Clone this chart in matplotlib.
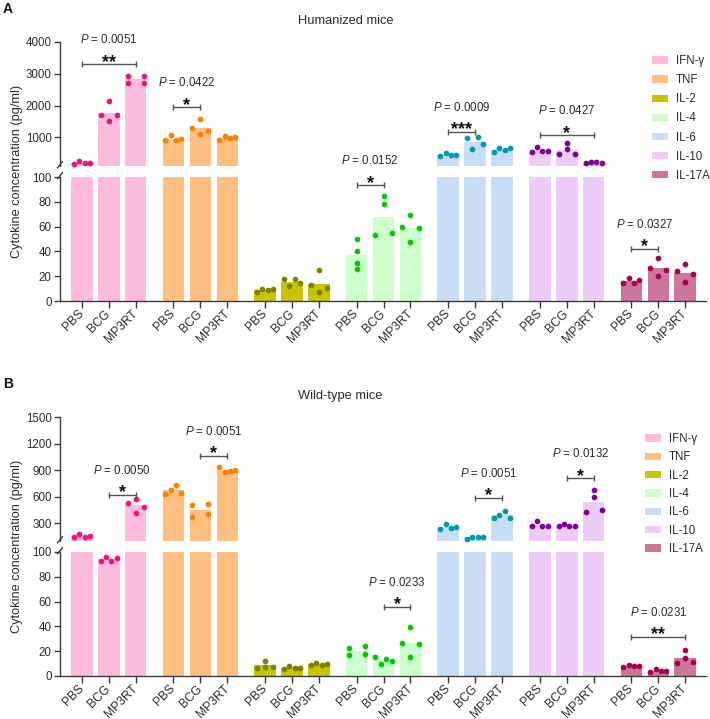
import numpy as np
import matplotlib
matplotlib.use('Agg')
import matplotlib.pyplot as plt
from matplotlib.patches import Patch

plt.rcParams['font.family'] = ['Liberation Sans', 'DejaVu Sans']
plt.rcParams['mathtext.fontset'] = 'custom'
plt.rcParams['mathtext.it'] = 'Liberation Sans:italic'
plt.rcParams['mathtext.rm'] = 'Liberation Sans'

groups = ['PBS', 'BCG', 'MP3RT']
cytokines = ['IFN-γ', 'TNF', 'IL-2', 'IL-4', 'IL-6', 'IL-10', 'IL-17A']
bar_colors = ['#ffbbdd', '#ffbf80', '#c8c400', '#ccffcc', '#c6ddf5', '#eeccf8', '#cc7799']
dot_colors = ['#f0147f', '#ff8000', '#808000', '#00cc00', '#0099b3', '#800099', '#aa0055']

# humanized mice, 4 mice per group (PBS, BCG, MP3RT), pg/ml
hu_ifng = [[170, 245, 200, 205], [2130, 1705, 1516, 1705], [2926, 2926, 2726, 2726]]
hu_tnf = [[905, 1084, 905, 937], [1568, 1284, 1095, 1200], [905, 1042, 979, 1000]]
hu_il2 = [[7.3, 9.9, 9.1, 9.4], [17.5, 11.8, 17.5, 14.8], [24.7, 12.6, 7.3, 10.8]]
hu_il4 = [[50.3, 40.3, 30.6, 25.8], [84.4, 78.0, 53.0, 55.1], [69.1, 59.7, 47.6, 58.6]]
hu_il6 = [[411, 505, 432, 432], [968, 642, 1010, 800], [537, 663, 589, 674]]
hu_il10 = [[537, 684, 579, 579], [474, 642, 821, 484], [189, 221, 221, 210]]
hu_il17a = [[14.2, 18.3, 14.2, 16.7], [35.0, 26.3, 20.4, 24.7], [24.2, 29.6, 15.3, 21.5]]

# wild-type mice
wt_ifng = [[142, 176, 149, 160], [93.0, 95.7, 92.7, 95.1], [526, 421, 572, 485]]
wt_tnf = [[632, 681, 734, 643], [508, 375, 515, 402], [941, 877, 892, 900]]
wt_il2 = [[6.5, 12.4, 7.5, 7.5], [5.4, 7.8, 6.5, 6.7], [8.6, 10.8, 8.9, 9.4]]
wt_il4 = [[22.4, 16.7, 24.5, 17.8], [15.1, 9.7, 14.0, 12.1], [39.6, 15.6, 26.4, 26.1]]
wt_il6 = [[232, 292, 243, 262], [119, 142, 148, 145], [364, 394, 440, 357]]
wt_il10 = [[270, 326, 274, 274], [266, 289, 274, 270], [677, 598, 432, 451]]
wt_il17a = [[7.0, 8.9, 8.4, 8.1], [3.0, 5.4, 4.3, 4.3], [10.8, 21.0, 14.8, 11.3]]

# significance: cytokine, group a, group b, bracket height, P value, stars
hu_sig = [(0, 0, 2, 3295, '0.0051', '**'), (1, 0, 1, 1947, '0.0422', '*'),
          (3, 0, 1, 93.3, '0.0152', '*'), (4, 0, 1, 1168, '0.0009', '***'),
          (5, 0, 2, 1063, '0.0427', '*'), (6, 0, 1, 42.2, '0.0327', '*')]
wt_sig = [(0, 1, 2, 621, '0.0050', '*'), (1, 1, 2, 1062, '0.0051', '*'),
          (3, 1, 2, 55.8, '0.0233', '*'), (4, 1, 2, 591, '0.0051', '*'),
          (5, 1, 2, 809, '0.0132', '*'), (6, 0, 2, 31.5, '0.0231', '**')]

W, H = 710, 719
GAP = 3.4          # distance between cytokine groups, in bar units
BAR_PX = 26.93     # pixels per bar unit
DOT_PX = 5.4
TXT = '#2a2a33'
AX = '#3a3a3a'

fig = plt.figure(figsize=(W / 100, H / 100), dpi=100)


def fig_box(left, top, width, height):
    return [left / W, 1 - (top + height) / H, width / W, height / H]


def pix_y(v, ymax):
    # vertical pixel height of a value on the broken axis
    if v <= 100:
        return v * 1.24
    return 135 + (v - 100) * 124 / (ymax - 100)


def spread(vals, ymax):
    # simple swarm: dots at about the same height go side by side
    ys = np.array([pix_y(v, ymax) for v in vals])
    order = np.argsort(ys)
    offs = np.zeros(len(vals))
    clusters = [[order[0]]]
    for a, b in zip(order[:-1], order[1:]):
        if ys[b] - ys[a] < DOT_PX:
            clusters[-1].append(b)
        else:
            clusters.append([b])
    for c in clusters:
        c = sorted(c)   # keep mouse order from left to right
        n = len(c)
        if n > 1:
            step = (0.8 * BAR_PX - DOT_PX) / (n - 1)
            for k, i in enumerate(c):
                offs[i] = (k - (n - 1) / 2) * step / BAR_PX
    return offs


def draw_panel(top, ymax, yticks, data, sig, title, letter, leg_x, leg_top, leg_sp):
    ax_hi = fig.add_axes(fig_box(60, top, 646, 124))
    ax_lo = fig.add_axes(fig_box(60, top + 135, 646, 124))
    ticks = []
    for c, cyt in enumerate(data):
        for g, vals in enumerate(cyt):
            x = c * GAP + g
            ticks.append(x)
            m = np.mean(vals)
            for ax in (ax_hi, ax_lo):
                ax.bar(x, m, width=0.8, color=bar_colors[c], linewidth=0, zorder=1)
            offs = spread(vals, ymax)
            for v, o in zip(vals, offs):
                ax = ax_hi if v > 100 else ax_lo
                ax.scatter(x + o, v, s=17, color=dot_colors[c], linewidths=0,
                           zorder=3, clip_on=False)

    for ax in (ax_hi, ax_lo):
        ax.set_xlim(-0.81, 23.17)
        for s in ('top', 'right'):
            ax.spines[s].set_visible(False)
        for s in ('left', 'bottom'):
            ax.spines[s].set_color(AX)
            ax.spines[s].set_linewidth(1)
        ax.tick_params(axis='y', length=4, width=1, color=AX, labelsize=8.3,
                       labelcolor=TXT, pad=2)
    ax_hi.spines['bottom'].set_visible(False)
    ax_hi.set_xticks([])
    ax_hi.set_ylim(100, ymax)
    ax_hi.set_yticks(yticks)
    ax_lo.set_ylim(0, 100)
    ax_lo.set_yticks([0, 20, 40, 60, 80, 100])
    ax_lo.set_xticks(ticks)
    ax_lo.set_xticklabels(groups * len(data), rotation=45, ha='right',
                          va='center', rotation_mode='anchor')
    ax_lo.tick_params(axis='x', length=5, width=1, color=AX, labelsize=8.7,
                      labelcolor=TXT, pad=3)

    # break marks on the y axis
    dx, dy = 2.5 / 646, 3.0 / 124
    ax_hi.plot([-dx, dx], [-dy + 0.01, dy + 0.01], transform=ax_hi.transAxes,
               color=AX, lw=1, clip_on=False)
    ax_lo.plot([-dx, dx], [1 - dy + 0.01, 1 + dy + 0.01], transform=ax_lo.transAxes,
               color=AX, lw=1, clip_on=False)

    for c, a, b, y, p, stars in sig:
        ax = ax_hi if y > 100 else ax_lo
        x1, x2 = c * GAP + a, c * GAP + b
        ax.plot([x1, x2], [y, y], color='#555555', lw=1, marker='|', ms=4.5,
                mew=1, clip_on=False, zorder=4)
        ax.annotate(stars, xy=((x1 + x2) / 2, y), xytext=(0, -2.5),
                    textcoords='offset pixels', ha='center', va='baseline',
                    fontsize=13, fontweight='bold', color='#111111',
                    annotation_clip=False)
        ax.annotate('$P$ = ' + p, xy=((x1 + x2) / 2, y), xytext=(0, 21),
                    textcoords='offset pixels', ha='center', va='baseline',
                    fontsize=8.3, color=TXT, annotation_clip=False)

    fig.text(17 / W, 1 - (top + 129.5) / H, 'Cytokine concentration (pg/ml)',
             rotation=90, ha='center', va='center', fontsize=9.2, color=TXT)
    fig.text(298 / W, 1 - (top - 17.5) / H, title, ha='left', va='baseline',
             fontsize=9.3, color=TXT)
    fig.text(3 / W, 1 - (top - 29) / H, letter, ha='left', va='baseline',
             fontsize=10, fontweight='bold', color='#111111')

    handles = [Patch(facecolor=bar_colors[i], edgecolor='none', label=n)
               for i, n in enumerate(cytokines)]
    fig.legend(handles=handles, loc='upper left',
               bbox_to_anchor=(leg_x / W, 1 - leg_top / H), frameon=False,
               fontsize=8.3, handlelength=1.35, handleheight=0.6,
               handletextpad=0.7, labelspacing=leg_sp, borderpad=0,
               borderaxespad=0, labelcolor=TXT)


hu_data = [hu_ifng, hu_tnf, hu_il2, hu_il4, hu_il6, hu_il10, hu_il17a]
wt_data = [wt_ifng, wt_tnf, wt_il2, wt_il4, wt_il6, wt_il10, wt_il17a]

draw_panel(42, 4000, [1000, 2000, 3000, 4000], hu_data, hu_sig,
           'Humanized mice', 'A', 652, 55, 0.62)
draw_panel(417, 1500, [300, 600, 900, 1200, 1500], wt_data, wt_sig,
           'Wild-type mice', 'B', 645, 433, 0.55)

fig.savefig('out.png', dpi=100)
